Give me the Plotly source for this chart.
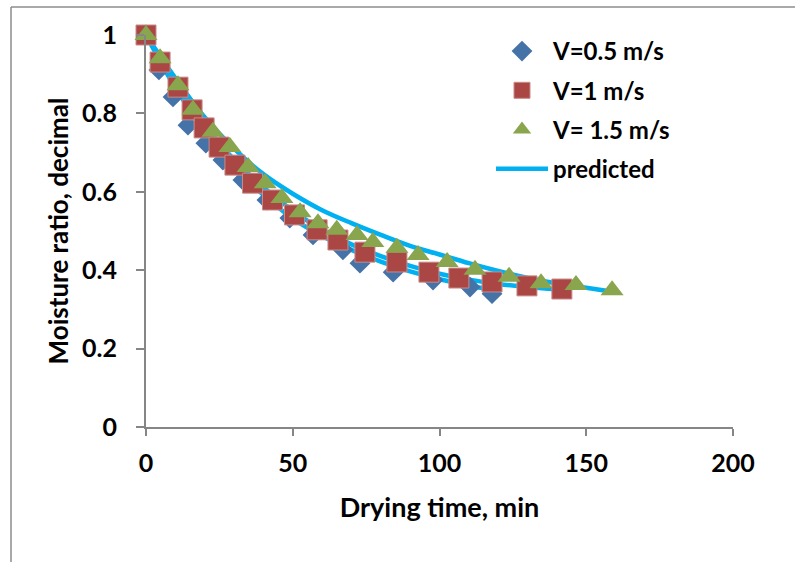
import plotly.graph_objects as go

# ---------------- data ----------------
t_v05 = [0, 4.4, 9.2, 14.3, 20.4, 26.2, 33, 41.2, 49, 56.9, 67.1, 72.9, 84.2, 97.8, 110.4, 117.9]
mr_v05 = [1.0, 0.911, 0.842, 0.770, 0.724, 0.681, 0.630, 0.579, 0.533, 0.490, 0.452, 0.418, 0.395, 0.375, 0.357, 0.340]

t_v1 = [0, 4.8, 10.9, 15.7, 19.8, 24.9, 30.3, 36.3, 43.1, 50.6, 58.3, 65.4, 74.6, 85.5, 96.4, 106.6, 117.9, 129.8, 141.7]
mr_v1 = [1.0, 0.931, 0.867, 0.809, 0.763, 0.714, 0.668, 0.622, 0.579, 0.541, 0.503, 0.477, 0.446, 0.421, 0.395, 0.380, 0.370, 0.360, 0.352]

t_v15 = [0, 4.8, 10.9, 16, 22.8, 28.6, 34.8, 40.6, 46.3, 52.5, 58.6, 65, 71.9, 77.3, 85.5, 92.7, 102.6, 112.1, 123.7, 134.6, 146.5, 158.8]
mr_v15 = [1.0, 0.941, 0.872, 0.809, 0.753, 0.714, 0.663, 0.622, 0.584, 0.548, 0.520, 0.503, 0.490, 0.472, 0.457, 0.439, 0.421, 0.401, 0.383, 0.367, 0.362, 0.349]

t_pred05 = [0, 10, 20, 30, 40, 50, 60, 70, 80, 90, 100, 110, 118]
mr_pred05 = [1.0, 0.865, 0.755, 0.665, 0.592, 0.532, 0.487, 0.452, 0.422, 0.397, 0.377, 0.361, 0.350]

t_pred1 = [0, 10, 20, 30, 40, 50, 60, 70, 80, 90, 100, 110, 120, 130, 142]
mr_pred1 = [1.0, 0.875, 0.770, 0.682, 0.612, 0.552, 0.503, 0.466, 0.436, 0.411, 0.391, 0.376, 0.365, 0.357, 0.350]

t_pred15 = [0, 10, 20, 30, 40, 50, 60, 70, 80, 90, 100, 110, 120, 130, 140, 150, 159]
mr_pred15 = [1.0, 0.89, 0.79, 0.71, 0.645, 0.595, 0.553, 0.52, 0.49, 0.462, 0.44, 0.418, 0.398, 0.38, 0.366, 0.355, 0.345]

x_ticks = [0, 50, 100, 150, 200]
y_ticks = [0, 0.2, 0.4, 0.6, 0.8, 1]
y_tick_labels = ["0", "0.2", "0.4", "0.6", "0.8", "1"]

# ---------------- styling ----------------
FONT = "Lato"
CYAN = "#00B0F0"
AXIS = "#868686"

fig = go.Figure()

pred_sets = [(t_pred05, mr_pred05), (t_pred1, mr_pred1), (t_pred15, mr_pred15)]
for i, (tx, my) in enumerate(pred_sets):
    fig.add_trace(go.Scatter(
        x=tx, y=my, mode="lines", name="predicted",
        line=dict(color=CYAN, width=4.5, shape="spline", smoothing=1.0),
        legendgroup="pred", showlegend=(i == 0), legendrank=4,
        cliponaxis=False,
    ))

fig.add_trace(go.Scatter(
    x=t_v05, y=mr_v05, mode="markers", name="V=0.5 m/s",
    marker=dict(symbol="diamond", size=16, color="#4572A7", line=dict(width=0)),
    legendgroup="a", legendrank=1, cliponaxis=False,
))
fig.add_trace(go.Scatter(
    x=t_v1, y=mr_v1, mode="markers", name="V=1 m/s",
    marker=dict(symbol="square", size=20, color="#AA4643", line=dict(width=1, color="#C98B89")),
    legendgroup="b", legendrank=2, cliponaxis=False,
))
fig.add_trace(go.Scatter(
    x=t_v15, y=mr_v15, mode="markers", name="V= 1.5 m/s",
    marker=dict(symbol="triangle-up", size=20, color="#89A54E", line=dict(width=0)),
    legendgroup="c", legendrank=3, cliponaxis=False,
))

W, H = 795, 562
L, R, T, B = 146, 62, 35, 135
pw, ph = W - L - R, H - T - B

def px_x(p):
    return (p - L) / pw

def px_y(p):
    return (H - B - p) / ph

# outer chart frame (top and left edges visible)
fig.add_shape(type="line", xref="paper", yref="paper",
              x0=px_x(11), x1=px_x(W + 5), y0=px_y(7), y1=px_y(7),
              line=dict(color="#8C8C8C", width=1.5))
fig.add_shape(type="line", xref="paper", yref="paper",
              x0=px_x(11), x1=px_x(11), y0=px_y(7), y1=px_y(H + 5),
              line=dict(color="#8C8C8C", width=1.5))

fig.update_layout(
    width=W, height=H,
    margin=dict(l=L, r=R, t=T, b=B, pad=0),
    paper_bgcolor="white", plot_bgcolor="white",
    font=dict(family=FONT, color="black", size=22),
    showlegend=True,
    legend=dict(
        x=px_x(491), y=px_y(29), xanchor="left", yanchor="top",
        traceorder="grouped", tracegroupgap=5,
        font=dict(family=FONT, size=24, color="black", weight="bold"),
        itemwidth=52, bgcolor="rgba(0,0,0,0)",
    ),
    xaxis=dict(
        range=[0, 200], tickvals=x_ticks, showgrid=False, zeroline=False,
        showline=True, linecolor=AXIS, linewidth=2,
        ticks="outside", ticklen=7, tickcolor=AXIS, tickwidth=2,
        tickfont=dict(family=FONT, size=25, color="black", weight="bold"),
        ticklabelstandoff=6,
        title=dict(text="Drying time, min", standoff=22,
                   font=dict(family=FONT, size=27, color="black", weight="bold")),
    ),
    yaxis=dict(
        range=[0, 1], tickvals=y_ticks, ticktext=y_tick_labels,
        showgrid=False, zeroline=False,
        showline=True, linecolor=AXIS, linewidth=2,
        ticks="outside", ticklen=8, tickcolor=AXIS, tickwidth=2,
        tickfont=dict(family=FONT, size=25, color="black", weight="bold"),
        ticklabelstandoff=14,
        title=dict(text="Moisture ratio, decimal", standoff=6,
                   font=dict(family=FONT, size=26, color="black", weight="bold")),
    ),
)

fig.write_html("out.html")
